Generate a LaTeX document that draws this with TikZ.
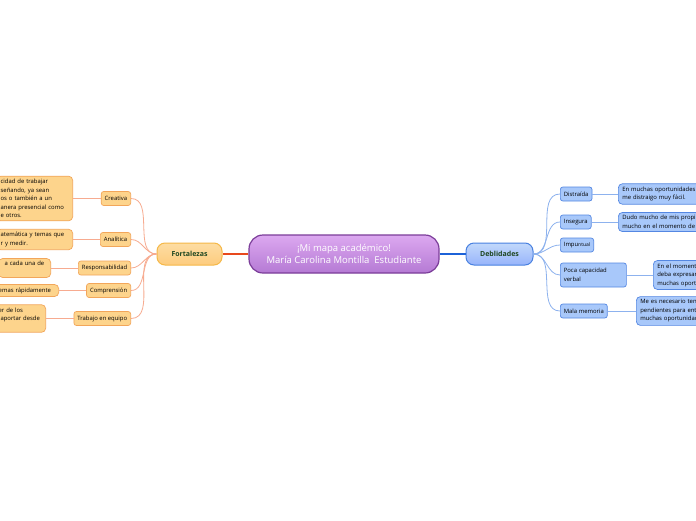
\documentclass[tikz,border=0pt]{standalone}
\usepackage{fontspec}
\setmainfont{Open Sans}
\definecolor{amarillo}{HTML}{FDD48C}
\definecolor{bordeam}{HTML}{F2A65A}
\definecolor{ramaam}{HTML}{F7AB90}
\definecolor{rojo}{HTML}{E8491D}
\definecolor{azul}{HTML}{A8C8FA}
\definecolor{bordeaz}{HTML}{5487E2}
\definecolor{ramaaz}{HTML}{8DB2EE}
\definecolor{azulfuerte}{HTML}{1C62D8}
\definecolor{morado}{HTML}{7B3D99}
\definecolor{moradoalto}{HTML}{DCA8F0}
\definecolor{moradobajo}{HTML}{B57AD4}
\definecolor{verde}{HTML}{1E4620}
\tikzset{
  sub/.style={rounded corners=2.5pt,line width=0.7pt,font=\fontsize{5.9}{7}\selectfont,
    inner xsep=3.5pt,inner ysep=0pt,minimum height=14pt},
  subam/.style={sub,draw=bordeam,fill=amarillo},
  subaz/.style={sub,draw=bordeaz,fill=azul},
  hoja/.style={rounded corners=4pt,line width=0.7pt,font=\fontsize{5.9}{8.5}\selectfont,
    align=left,inner xsep=4pt,inner ysep=3pt},
  hojaam/.style={hoja,draw=bordeam,fill=amarillo},
  hojaaz/.style={hoja,draw=bordeaz,fill=azul},
  ramaL/.style={ramaam,line width=0.8pt},
  ramaR/.style={ramaaz,line width=0.8pt}
}
\begin{document}
\begin{tikzpicture}[x=1pt,y=-1pt]
  \useasboundingbox (0,0) rectangle (696,520);
  \clip (0,0) rectangle (696,520);
  \fill[white] (0,0) rectangle (696,520);

  \node[draw=morado,line width=1.2pt,rounded corners=14pt,top color=moradoalto,
    bottom color=moradobajo,minimum width=190pt,minimum height=38pt,
    text=white,font=\fontsize{9.5}{12}\selectfont,align=center] (mapa) at (344,254)
    {¡Mi mapa académico!\\María Carolina Montilla\ \ Estudiante};

  \node[draw=bordeam!80!yellow,line width=1pt,rounded corners=8pt,top color=amarillo!80!white,
    bottom color=amarillo!90!orange,minimum width=65pt,minimum height=22pt,text=verde,
    font=\fontsize{7}{8}\selectfont\bfseries] (fort) at (189.5,254) {Fortalezas};
  \node[draw=azulfuerte!80!white,line width=1pt,rounded corners=8pt,top color=azul!70!white,
    bottom color=azul!90!blue,minimum width=67pt,minimum height=22pt,text=verde,
    font=\fontsize{7}{8}\selectfont\bfseries] (deb) at (499.5,254) {Deblidades};

  \draw[rojo,line width=1.3pt] (mapa.west) -- (fort.east);
  \draw[azulfuerte,line width=1.3pt] (mapa.east) -- (deb.west);

  \node[subam,anchor=east] (crea) at (131,198.5) {Creativa};
  \node[subam,anchor=east] (anal) at (131,239.5) {Analítica};
  \node[subam,anchor=east] (resp) at (131,268) {Responsabilidad};
  \node[subam,anchor=east] (comp) at (131,290.5) {Comprensión};
  \node[subam,anchor=east] (trab) at (131,318.5) {Trabajo en equipo};

  \node[hojaam,anchor=east,text width=68pt] (creaH) at (73,198.5)
    {cidad de trabajar\\señando, ya sean\\os o también a un\\anera presencial como\\e otros.};
  \node[hojaam,anchor=east,text width=68pt] (analH) at (73,239.5)
    {atemática y temas que\\r y medir.};
  \node[hojaam,anchor=east,text width=44pt] (respH) at (51,268)
    {\ a cada una de\\\mbox{}};
  \node[hojaam,anchor=east,text width=58pt] (compH) at (59,290.5)
    {temas rápidamente};
  \node[hojaam,anchor=east,text width=45pt] (trabH) at (46,318.5)
    {\ er de los\\\ \ aportar desde\\\mbox{}};

  \foreach \n in {crea,anal,resp,comp,trab}{
    \draw[ramaL] (fort.west) to[out=180,in=0] (\n.east);
    \draw[ramaL] (\n.west) -- (\n H.east);
  }

  \node[subaz,anchor=west] (dist) at (560,194) {Distraída};
  \node[subaz,anchor=west] (inse) at (560,222) {Insegura};
  \node[subaz,anchor=west] (impu) at (560,245) {Impu{\fontsize{5}{6}\selectfont ntual}};
  \node[subaz,anchor=west,align=left,text width=59pt,minimum height=24pt,
    font=\fontsize{5.9}{8.5}\selectfont] (poca) at (560,275) {Poca capacidad\\verbal};
  \node[subaz,anchor=west] (mala) at (560,311) {Mala memoria};

  \node[hojaaz,anchor=west,text width=90pt] (distH) at (618,194)
    {En muchas oportunidades\\me distraigo muy fácil.};
  \node[hojaaz,anchor=west,text width=90pt] (inseH) at (618,222)
    {Dudo mucho de mis propi\\mucho en el momento de};
  \node[hojaaz,anchor=west,text width=90pt] (pocaH) at (653,275)
    {En el moment\\deba expresar\\muchas oport};
  \node[hojaaz,anchor=west,text width=90pt] (malaH) at (636,311)
    {Me es necesario ten\\pendientes para ent\\muchas oportunidad};

  \foreach \n in {dist,inse,impu,poca,mala}{
    \draw[ramaR] (deb.east) to[out=0,in=180] (\n.west);
  }
  \foreach \n in {dist,inse,poca,mala}{
    \draw[ramaR] (\n.east) -- (\n H.west);
  }
\end{tikzpicture}
\end{document}
